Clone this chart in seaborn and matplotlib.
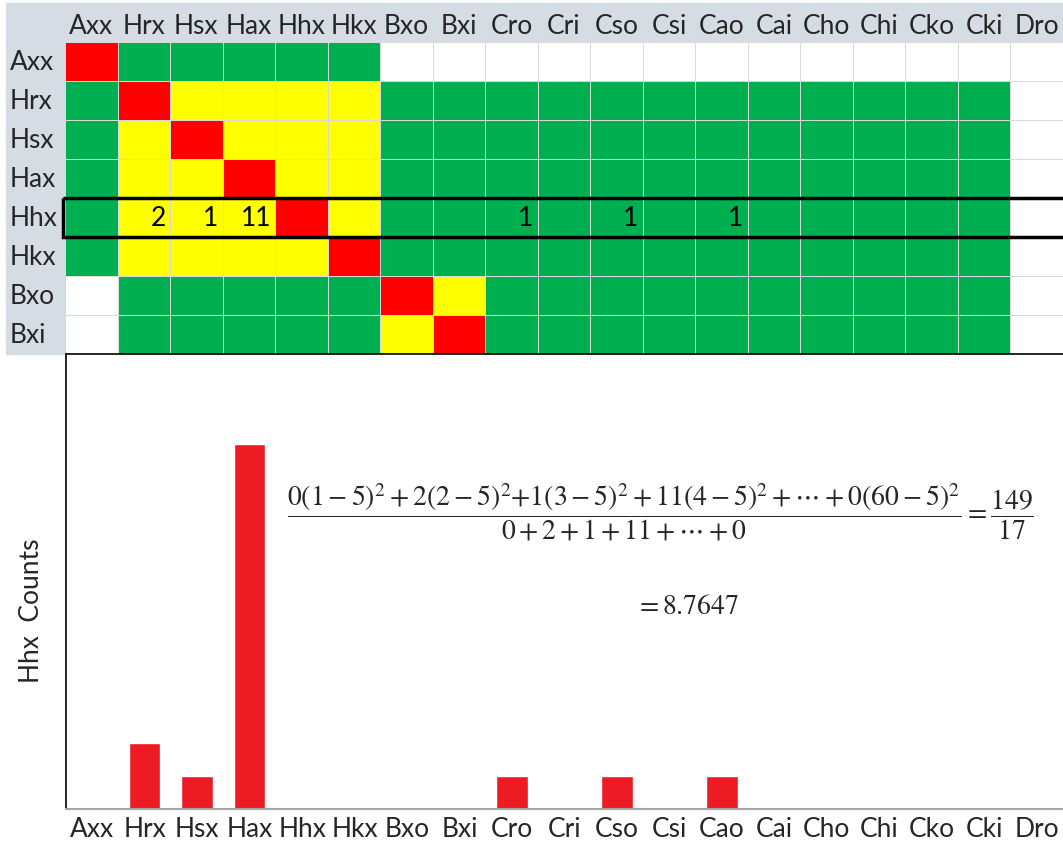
import numpy as np
import pandas as pd
import seaborn as sns
import matplotlib.pyplot as plt
from matplotlib.colors import ListedColormap
from matplotlib.patches import Rectangle

# column / row names of the grid
cols = ['Axx', 'Hrx', 'Hsx', 'Hax', 'Hhx', 'Hkx', 'Bxo', 'Bxi', 'Cro', 'Cri',
        'Cso', 'Csi', 'Cao', 'Cai', 'Cho', 'Chi', 'Cko', 'Cki', 'Dro']
rows = ['Axx', 'Hrx', 'Hsx', 'Hax', 'Hhx', 'Hkx', 'Bxo', 'Bxi']

# cell colours: W white, G green, Y yellow, R red
grid_rows = [
    'RGGGGGWWWWWWWWWWWWW',
    'GRYYYYGGGGGGGGGGGGW',
    'GYRYYYGGGGGGGGGGGGW',
    'GYYRYYGGGGGGGGGGGGW',
    'GYYYRYGGGGGGGGGGGGW',
    'GYYYYRGGGGGGGGGGGGW',
    'WGGGGGRYGGGGGGGGGGW',
    'WGGGGGYRGGGGGGGGGGW',
]

# Hhx counts per column
hhx_counts = [0, 2, 1, 11, 0, 0, 0, 0, 1, 0, 1, 0, 1, 0, 0, 0, 0, 0, 0]

code = {'W': 0, 'G': 1, 'Y': 2, 'R': 3}
grid = pd.DataFrame([[code[c] for c in r] for r in grid_rows], index=rows, columns=cols)

annot = np.full(grid.shape, '', dtype=object)
hhx_row = rows.index('Hhx')
for j, v in enumerate(hhx_counts):
    if v > 0:
        annot[hhx_row, j] = str(v)

sns.set_style('white')
plt.rcParams['font.family'] = ['Lato', 'DejaVu Sans']
plt.rcParams['mathtext.fontset'] = 'stix'

W, H = 1063, 845
fs = 19
fig = plt.figure(figsize=(W / 100, H / 100), dpi=100)

# header background (spreadsheet style)
hdr = '#d6dce4'
fig.patches.append(Rectangle((6 / W, (H - 43) / H), (W - 6) / W, 39 / H,
                             transform=fig.transFigure, color=hdr, zorder=-5))
fig.patches.append(Rectangle((6 / W, (H - 355) / H), 59 / W, 312 / H,
                             transform=fig.transFigure, color=hdr, zorder=-5))

# top grid
ax = fig.add_axes([65 / W, (H - 355) / H, 998 / W, 312 / H])
cmap = ListedColormap(['#ffffff', '#00b050', '#ffff00', '#ff0000'])
sns.heatmap(grid, ax=ax, cmap=cmap, vmin=-0.5, vmax=3.5, cbar=False,
            linewidths=0.6, linecolor='#d9d9d9',
            annot=annot, fmt='', annot_kws={'fontsize': fs, 'color': 'black'})
for t in ax.texts:
    x, y = t.get_position()
    t.set_position((x + 0.42, y))
    t.set_ha('right')
ax.xaxis.tick_top()
ax.set_xticklabels(cols, rotation=0, fontsize=fs)
ax.set_yticklabels(rows, rotation=0, fontsize=fs)
ax.tick_params(axis='both', length=0)
ax.tick_params(axis='x', pad=3)
ax.tick_params(axis='y', pad=40)
for lab in ax.get_yticklabels():
    lab.set_ha('left')
ax.set_xlabel('')
ax.set_ylabel('')
# box around the Hhx row
ax.add_patch(Rectangle((-0.04, hhx_row), 19.1, 1, fill=False, edgecolor='black',
                       lw=2.5, clip_on=False, zorder=5))

# bottom bar chart
bx = fig.add_axes([66 / W, (H - 810) / H, (W - 66) / W, 455 / H])
sns.barplot(x=cols, y=hhx_counts, color='#ed1c24', width=0.6, saturation=1, ax=bx)
bx.set_xlim(-0.5, 18.5)
bx.set_ylim(0, 13.7)
bx.set_yticks(range(1, 13))
bx.set_yticklabels([])
bx.tick_params(axis='y', direction='in', length=4, width=1.5, color='black')
bx.tick_params(axis='x', length=0, labelsize=fs, pad=5)
bx.set_ylabel('Hhx  Counts', fontsize=fs)
bx.yaxis.set_label_coords(-0.022, 0.437)
for s in ['left', 'top']:
    bx.spines[s].set_color('black')
    bx.spines[s].set_linewidth(1.2)
bx.spines['right'].set_visible(False)
bx.spines['bottom'].set_color('#a6a6a6')
bx.spines['bottom'].set_linewidth(1.5)

eq = (r'$\dfrac{0(1-5)^2 + 2(2-5)^2{+}1(3-5)^2 + 11(4-5)^2 + \cdots + 0(60-5)^2}'
      r'{0 + 2 + 1 + 11 + \cdots + 0} = \dfrac{149}{17}$')
fig.text(287 / W, (H - 512) / H, eq, fontsize=20, ha='left', va='center')
fig.text(687 / W, (H - 606) / H, r'$= 8.7647$', fontsize=20, ha='center', va='center')

fig.savefig('out.png', dpi=100)
